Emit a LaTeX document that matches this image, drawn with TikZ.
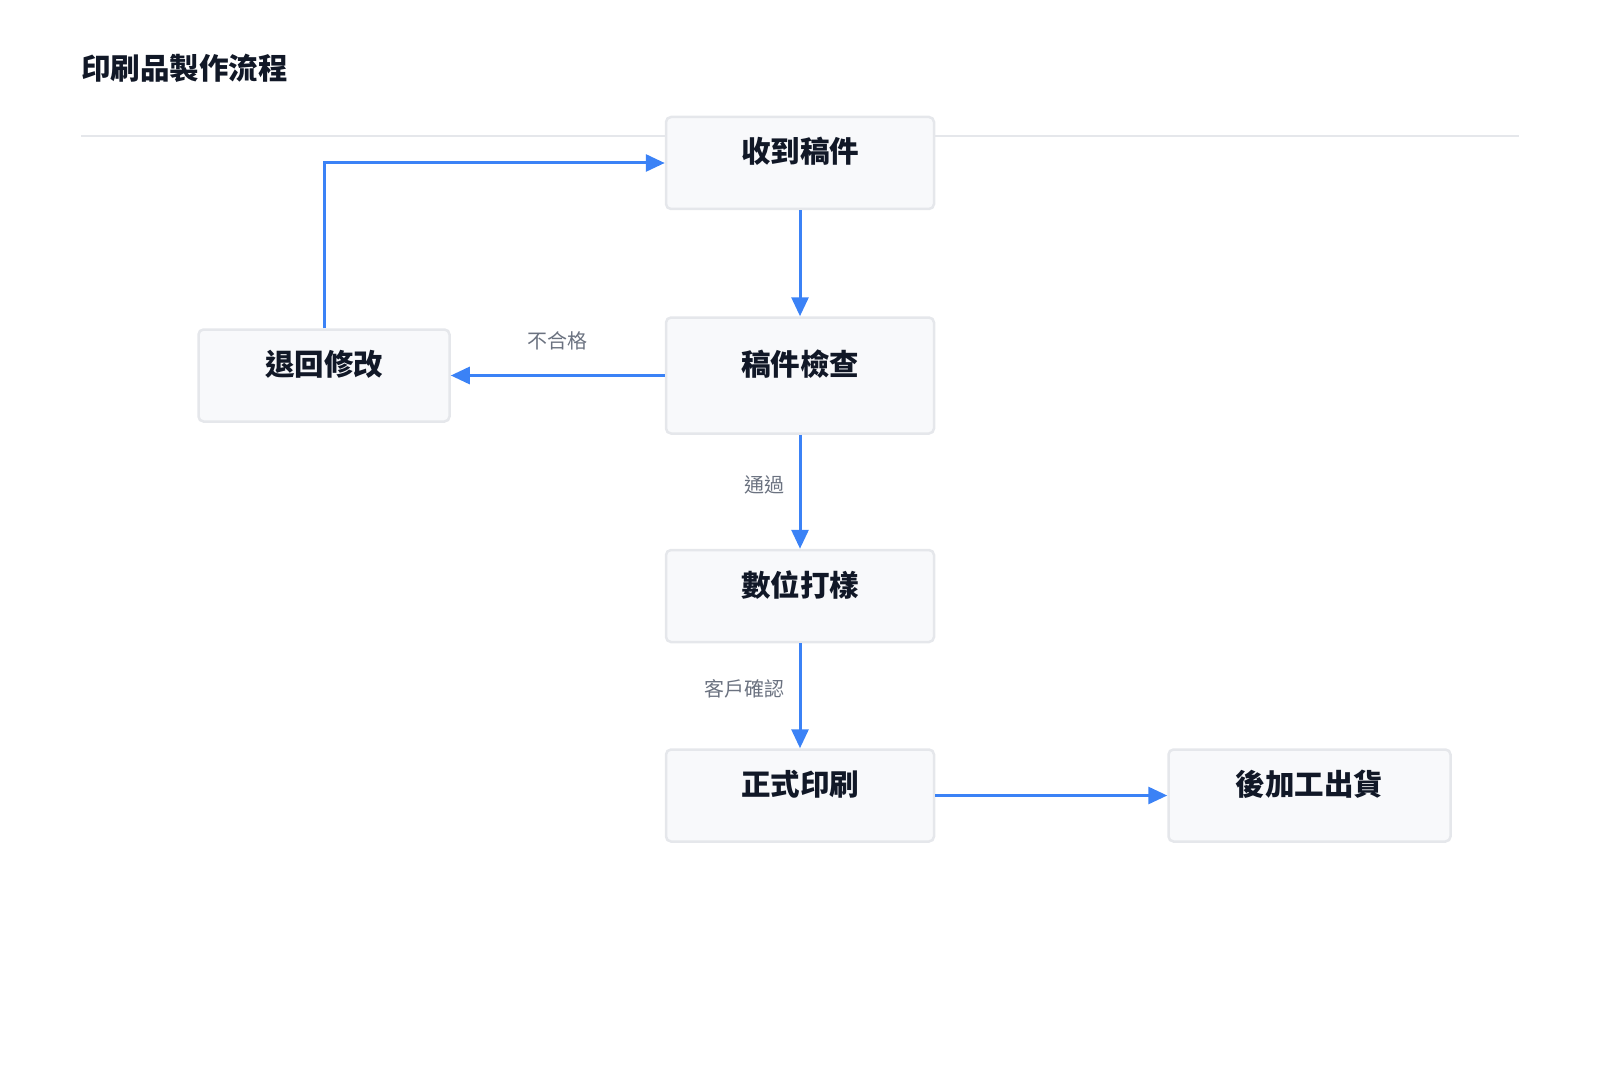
\documentclass[tikz,border=0pt]{standalone}
\usepackage{fontspec}
\setmainfont{Noto Sans CJK TC}
\usetikzlibrary{arrows.meta,positioning}
\definecolor{flowblue}{HTML}{3B82F6}
\definecolor{boxfill}{HTML}{F8F9FB}
\definecolor{boxline}{HTML}{E5E7EB}
\definecolor{inkdark}{HTML}{111827}
\definecolor{notegray}{HTML}{6B7280}

\begin{document}
\begin{tikzpicture}[
  x=1pt, y=-1pt,
  stage/.style={draw=boxline, line width=2.5pt, rounded corners=5pt, fill=boxfill, text=inkdark,
    minimum width=268pt, inner ysep=0pt, text height=46pt, text depth=46pt,
    font=\fontsize{29.5}{30}\selectfont\bfseries},
  tall/.style={text height=58pt, text depth=58pt},
  flow/.style={draw=flowblue, line width=3pt, -{Triangle[length=19pt, width=17pt]}},
  note/.style={text=notegray, font=\fontsize{20}{21}\selectfont}
]
\useasboundingbox (0,0) rectangle (1600,1067);

% title and rule
\node [anchor=base west, text=inkdark, inner sep=0pt, font=\fontsize{29.5}{30}\selectfont\bfseries] (title) at (81,80) {印刷品製作流程};
\draw [boxline, line width=1.5pt] (81,136) -- (1519,136);

% stages
\node [stage] (recv) at (800,163) {收到稿件};
\node [stage, tall, below=106pt of recv] (check) {稿件檢查};
\node [stage, minimum width=251pt, left=214pt of check] (back) {退回修改};
\node [stage, below=114pt of check] (proof) {數位打樣};
\node [stage, below=105pt of proof] (print) {正式印刷};
\node [stage, minimum width=282pt, right=232pt of print] (ship) {後加工出貨};

% flow
\draw [flow] (recv) -- (check);
\draw [flow] (check) -- node [note, yshift=35pt] (fail) {不合格} (back);
\draw [flow] (back.north) |- (recv.west);
\draw [flow] (check) -- node [note, anchor=east, xshift=-11pt, yshift=7pt] (pass) {通過} (proof);
\draw [flow] (proof) -- node [note, anchor=east, xshift=-11pt, yshift=7pt] (okay) {客戶確認} (print);
\draw [flow] (print) -- (ship);
\end{tikzpicture}
\end{document}
